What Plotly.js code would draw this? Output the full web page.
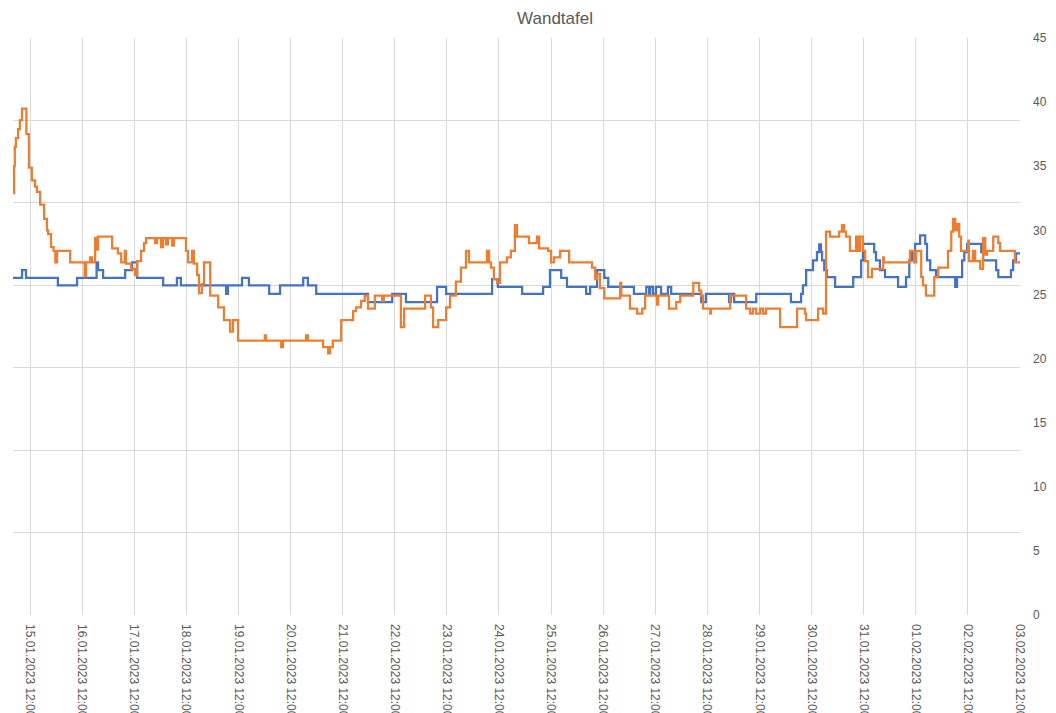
<!DOCTYPE html>
<html>
<head>
<meta charset="utf-8">
<script src="https://cdn.plot.ly/plotly-3.0.1.min.js"></script>
<style>
html,body{margin:0;padding:0;background:#ffffff;}
#chart{width:1056px;height:713px;}
</style>
</head>
<body>
<div id="chart"></div>
<script>
// ---- data ----
const chartTitle = "Wandtafel";
const xStart = "2023-01-15 04:10";
const xEnd = "2023-02-03 12:00:01";
const firstTick = "2023-01-15 12:00";
const tickFormat = "%d.%m.%Y %H:%M";
const yMax = 45;          // right-hand value axis 0..45, step 5
const yStep = 5;
const gridDivisions = 7;  // horizontal gridlines of the original (7 bands)

const blueTime = [
"2023-01-15 04:10","2023-01-15 08:20","2023-01-15 10:10","2023-01-16 00:50","2023-01-16 09:40","2023-01-16 18:40","2023-01-16 19:20","2023-01-16 21:40",
"2023-01-17 07:50","2023-01-17 11:00","2023-01-17 13:20","2023-01-18 01:20","2023-01-18 07:40","2023-01-18 09:30",
"2023-01-19 06:20","2023-01-19 07:10","2023-01-19 13:40","2023-01-19 16:50",
"2023-01-20 02:10","2023-01-20 07:10","2023-01-20 17:50","2023-01-20 20:00","2023-01-20 23:50",
"2023-01-21 23:40","2023-01-22 10:50","2023-01-22 17:10","2023-01-23 07:30","2023-01-23 11:40",
"2023-01-24 08:50","2023-01-24 11:30","2023-01-24 22:40",
"2023-01-25 08:20","2023-01-25 11:30","2023-01-25 16:40","2023-01-25 19:20",
"2023-01-26 04:10","2023-01-26 06:00","2023-01-26 09:10","2023-01-26 12:30","2023-01-26 14:20",
"2023-01-27 02:10","2023-01-27 07:50","2023-01-27 09:10","2023-01-27 09:40","2023-01-27 11:00","2023-01-27 12:20","2023-01-27 14:40","2023-01-27 17:50","2023-01-27 19:20",
"2023-01-28 09:10","2023-01-28 11:20","2023-01-28 22:00","2023-01-28 22:50",
"2023-01-29 00:20","2023-01-29 10:30",
"2023-01-30 02:30","2023-01-30 07:10","2023-01-30 08:00","2023-01-30 09:30","2023-01-30 12:40","2023-01-30 14:30","2023-01-30 15:30","2023-01-30 16:20","2023-01-30 16:50","2023-01-30 17:50","2023-01-30 19:00","2023-01-30 22:50",
"2023-01-31 07:10","2023-01-31 10:50","2023-01-31 11:40","2023-01-31 16:50","2023-01-31 17:40","2023-01-31 19:30","2023-01-31 21:50",
"2023-02-01 03:50","2023-02-01 07:30","2023-02-01 09:00","2023-02-01 10:20","2023-02-01 11:40","2023-02-01 14:00","2023-02-01 16:20","2023-02-01 17:10","2023-02-01 18:40","2023-02-01 21:20",
"2023-02-02 06:10","2023-02-02 07:00","2023-02-02 09:20","2023-02-02 10:20","2023-02-02 11:40","2023-02-02 18:10","2023-02-02 19:00",
"2023-02-03 01:00","2023-02-03 02:00","2023-02-03 07:50","2023-02-03 08:50","2023-02-03 10:10","2023-02-03 12:00"
];
const blueValue = [
26.3,26.9,26.3,25.7,26.3,27.5,26.9,26.3,
26.9,27.5,26.3,25.7,26.3,25.7,
25.05,25.7,26.3,25.7,
25.05,25.7,26.3,25.7,25.05,
24.4,25.05,24.4,25.6,25.05,
26.2,25.6,25.05,
25.6,26.9,26.3,25.6,
25.05,25.6,26.9,26.3,25.6,
25.05,25.6,25.05,25.6,25.05,25.6,25.05,25.6,25.05,
24.4,25.05,24.4,25.05,
24.4,25.05,
24.4,25.05,25.7,26.9,27.65,28.3,28.9,28.3,27.65,26.9,26.35,25.6,
26.35,27.65,28.95,28.3,27.65,26.9,26.35,
25.6,26.35,27.65,28.3,28.95,29.6,28.95,27.65,26.9,26.35,
25.6,26.35,27.65,28.3,28.95,28.3,27.65,
26.9,26.35,26.9,27.65,28.2,28.2
];

const orangeTime = [
"2023-01-15 04:10","2023-01-15 04:40","2023-01-15 05:00","2023-01-15 05:30","2023-01-15 06:30","2023-01-15 07:20","2023-01-15 08:20",
"2023-01-15 10:20","2023-01-15 11:30","2023-01-15 12:50","2023-01-15 14:20","2023-01-15 15:10","2023-01-15 16:40","2023-01-15 18:30",
"2023-01-15 19:50","2023-01-15 20:20","2023-01-15 21:40","2023-01-15 22:50","2023-01-15 23:40",
"2023-01-16 00:30","2023-01-16 06:30","2023-01-16 13:10","2023-01-16 13:50","2023-01-16 15:40","2023-01-16 16:30","2023-01-16 18:00","2023-01-16 18:50","2023-01-16 19:20",
"2023-01-17 01:50","2023-01-17 04:30","2023-01-17 06:00","2023-01-17 07:40","2023-01-17 08:10","2023-01-17 10:30","2023-01-17 12:20","2023-01-17 13:20",
"2023-01-17 15:10","2023-01-17 16:30","2023-01-17 17:30","2023-01-17 21:40","2023-01-17 22:30",
"2023-01-18 00:20","2023-01-18 01:20","2023-01-18 02:40","2023-01-18 03:30","2023-01-18 05:30","2023-01-18 06:20","2023-01-18 11:50","2023-01-18 12:50",
"2023-01-18 14:40","2023-01-18 15:30","2023-01-18 17:00","2023-01-18 17:50","2023-01-18 19:10","2023-01-18 20:10","2023-01-18 23:00",
"2023-01-19 02:40","2023-01-19 05:20","2023-01-19 08:10","2023-01-19 09:30","2023-01-19 11:50",
"2023-01-20 00:10","2023-01-20 00:40","2023-01-20 07:40","2023-01-20 08:30","2023-01-20 19:10","2023-01-20 20:00",
"2023-01-21 03:00","2023-01-21 05:20","2023-01-21 06:10","2023-01-21 07:30","2023-01-21 11:20","2023-01-21 16:50","2023-01-21 18:10","2023-01-21 20:30","2023-01-21 22:10","2023-01-21 23:40",
"2023-01-22 02:50","2023-01-22 06:10","2023-01-22 07:00","2023-01-22 14:50","2023-01-22 16:20",
"2023-01-23 02:00","2023-01-23 04:40","2023-01-23 05:40","2023-01-23 08:00","2023-01-23 11:40","2023-01-23 13:30","2023-01-23 16:10","2023-01-23 18:30","2023-01-23 20:50","2023-01-23 22:10",
"2023-01-24 06:30","2023-01-24 07:30","2023-01-24 08:20","2023-01-24 09:40","2023-01-24 11:10","2023-01-24 12:30","2023-01-24 15:40","2023-01-24 17:30","2023-01-24 19:20","2023-01-24 20:20",
"2023-01-25 01:50","2023-01-25 05:30","2023-01-25 06:30","2023-01-25 10:40","2023-01-25 12:00","2023-01-25 13:20","2023-01-25 16:10","2023-01-25 20:20",
"2023-01-26 06:50","2023-01-26 08:20","2023-01-26 09:10","2023-01-26 10:30","2023-01-26 12:30","2023-01-26 19:50","2023-01-26 20:20",
"2023-01-27 00:20","2023-01-27 03:40","2023-01-27 06:00","2023-01-27 07:20","2023-01-27 12:50","2023-01-27 13:20","2023-01-27 18:20","2023-01-27 21:40","2023-01-27 23:30",
"2023-01-28 05:30","2023-01-28 08:10","2023-01-28 09:10","2023-01-28 10:00","2023-01-28 13:20","2023-01-28 13:40","2023-01-28 22:30",
"2023-01-29 05:50","2023-01-29 07:40","2023-01-29 09:00","2023-01-29 10:30","2023-01-29 12:20","2023-01-29 13:40","2023-01-29 15:00","2023-01-29 21:30",
"2023-01-30 05:20","2023-01-30 09:00","2023-01-30 09:30","2023-01-30 15:00","2023-01-30 17:20","2023-01-30 18:40","2023-01-30 20:30",
"2023-01-31 00:40","2023-01-31 02:00","2023-01-31 03:00","2023-01-31 03:50","2023-01-31 05:40","2023-01-31 08:30","2023-01-31 09:20","2023-01-31 10:20","2023-01-31 11:40",
"2023-01-31 12:40","2023-01-31 14:00","2023-01-31 15:50","2023-01-31 21:00","2023-01-31 21:20",
"2023-02-01 09:20","2023-02-01 11:10","2023-02-01 12:10","2023-02-01 14:30","2023-02-01 15:20","2023-02-01 16:40","2023-02-01 20:30","2023-02-01 22:20",
"2023-02-02 02:50","2023-02-02 04:20","2023-02-02 05:10","2023-02-02 06:10","2023-02-02 07:00","2023-02-02 08:00","2023-02-02 08:50","2023-02-02 12:10","2023-02-02 12:30",
"2023-02-02 14:20","2023-02-02 15:20","2023-02-02 17:40","2023-02-02 19:00","2023-02-02 20:00","2023-02-02 20:50","2023-02-02 23:40",
"2023-02-03 02:00","2023-02-03 02:50","2023-02-03 09:40","2023-02-03 12:00"
];
const orangeValue = [
32.9,35.0,36.5,37.2,37.9,38.6,39.5,
37.5,34.9,33.9,33.4,33.0,32.0,30.9,
30.0,29.7,28.7,28.4,27.5,
28.4,27.5,26.4,27.5,27.9,27.5,29.4,28.5,29.5,
28.6,28.2,27.5,28.4,27.4,27.0,26.5,27.6,
28.4,29.0,29.4,29.0,29.4,
28.7,29.4,28.9,29.4,28.8,29.4,28.4,27.5,
28.4,27.4,26.5,25.1,25.8,27.5,24.9,
24.0,23.0,22.1,23.0,21.4,
21.8,21.4,20.9,21.4,21.8,21.4,
20.9,20.4,20.9,21.4,23.0,23.7,24.0,24.5,24.9,23.9,
24.9,24.5,24.9,22.45,23.9,
24.9,24.0,22.45,23.0,24.0,24.9,26.0,27.1,28.4,27.5,
28.4,27.5,27.1,26.2,25.9,27.5,27.9,28.4,30.4,29.5,
29.0,29.5,28.6,28.4,27.5,27.9,28.4,27.5,
27.1,26.2,26.6,25.5,24.7,25.9,24.9,
23.9,23.5,23.9,24.9,24.2,24.9,23.9,24.4,24.9,
25.9,25.3,24.9,23.9,23.5,23.9,24.9,
23.9,23.5,23.9,23.5,23.9,23.5,23.9,22.45,
23.9,23.5,23.0,23.9,23.5,29.9,29.5,
29.9,30.4,29.9,29.5,28.4,29.5,28.4,29.5,28.4,
27.6,26.35,27.0,27.9,27.5,
28.4,27.5,28.4,26.35,25.7,24.9,26.35,27.1,
28.4,29.9,30.9,30.0,30.5,29.5,28.4,29.2,27.6,
28.4,27.6,27.0,29.4,28.1,28.4,29.5,
29.0,28.4,27.5,27.5
];

// ---- chart ----
const textColor = "#595959";
const gridColor = "#d9d9d9";

// gridline positions of the original chart: 7 equal bands over the value range
const gridVals = [];
for (let k = 0; k <= gridDivisions; k++) gridVals.push(yMax * k / gridDivisions);

const traces = [
  {x: blueTime, y: blueValue, type: "scatter", mode: "lines", name: "Reihe 1", yaxis: "y",
   line: {color: "#4472C4", width: 2.25, shape: "hv"}, hoverinfo: "skip"},
  {x: orangeTime, y: orangeValue, type: "scatter", mode: "lines", name: "Reihe 2", yaxis: "y2",
   line: {color: "#ED7D31", width: 2.25, shape: "hv"}, hoverinfo: "skip"}
];

const layout = {
  width: 1056, height: 713,
  margin: {l: 13, r: 36, t: 38, b: 98, pad: 0},
  paper_bgcolor: "#ffffff", plot_bgcolor: "#ffffff",
  showlegend: false,
  font: {family: "Liberation Sans, Arial, sans-serif", color: textColor, size: 12},
  title: {text: chartTitle, xref: "container", x: 0.5256, xanchor: "center",
          yref: "container", y: 0.975, yanchor: "middle",
          font: {size: 17, color: textColor, family: "Liberation Sans, Arial, sans-serif"}},
  xaxis: {type: "date", range: [xStart, xEnd], tick0: firstTick, dtick: 86400000,
          tickformat: tickFormat, tickangle: 90, showgrid: true, gridcolor: gridColor, gridwidth: 1,
          zeroline: false, showline: false, ticks: "", automargin: false,
          tickfont: {size: 12, color: textColor}, ticklabelstandoff: 8},
  // grid axis (left, no labels)
  yaxis: {range: [0, yMax], tickmode: "array", tickvals: gridVals, side: "left",
          showgrid: true, gridcolor: gridColor, gridwidth: 1, showticklabels: false,
          zeroline: false, showline: false, ticks: "", automargin: false},
  // value axis (right, labelled 0..45)
  yaxis2: {range: [0, yMax], dtick: yStep, tick0: 0, overlaying: "y", side: "right",
           showgrid: false, zeroline: false, showline: false, ticks: "", automargin: false,
           tickfont: {size: 12, color: textColor}, ticklabelstandoff: 12}
};

Plotly.newPlot("chart", traces, layout, {displayModeBar: false, staticPlot: true});
</script>
</body>
</html>
